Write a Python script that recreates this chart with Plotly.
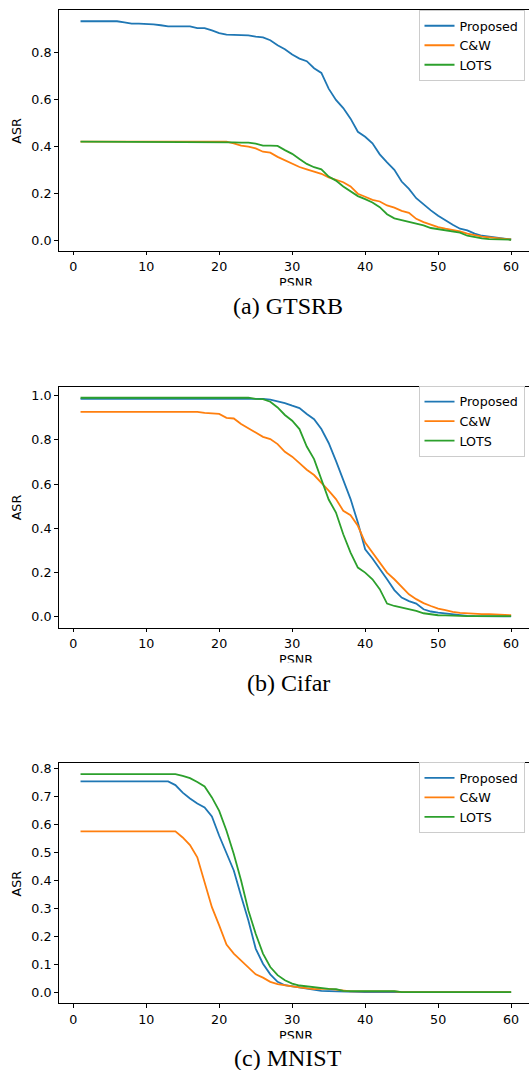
import plotly.graph_objects as go

# ---------------- data ----------------
psnr = list(range(1, 61))
x_ticks = [0, 10, 20, 30, 40, 50, 60]
series_names = ["Proposed", "C&W", "LOTS"]
captions = ["(a) GTSRB", "(b) Cifar", "(c) MNIST"]

gtsrb_proposed = [0.935, 0.935, 0.935, 0.935, 0.935, 0.935, 0.930, 0.925, 0.925, 0.925,
                  0.922, 0.918, 0.913, 0.913, 0.913, 0.913, 0.906, 0.906, 0.896, 0.885,
                  0.878, 0.878, 0.878, 0.875, 0.870, 0.866, 0.854, 0.833, 0.816, 0.793,
                  0.776, 0.765, 0.735, 0.715, 0.648, 0.600, 0.565, 0.520, 0.464, 0.443,
                  0.415, 0.368, 0.334, 0.302, 0.252, 0.221, 0.181, 0.153, 0.129, 0.106,
                  0.086, 0.068, 0.051, 0.044, 0.030, 0.021, 0.017, 0.013, 0.010, 0.005]
gtsrb_cw = [0.422, 0.422, 0.422, 0.422, 0.422, 0.422, 0.422, 0.422, 0.422, 0.422,
            0.422, 0.422, 0.422, 0.422, 0.422, 0.422, 0.422, 0.422, 0.422, 0.422,
            0.422, 0.415, 0.405, 0.401, 0.393, 0.379, 0.375, 0.357, 0.342, 0.330,
            0.314, 0.304, 0.294, 0.285, 0.270, 0.259, 0.249, 0.231, 0.200, 0.187,
            0.174, 0.167, 0.150, 0.141, 0.127, 0.119, 0.093, 0.079, 0.068, 0.058,
            0.051, 0.045, 0.040, 0.030, 0.023, 0.017, 0.014, 0.010, 0.006, 0.005]
gtsrb_lots = [0.422, 0.422, 0.422, 0.422, 0.422, 0.422, 0.422, 0.422, 0.422, 0.422,
              0.422, 0.422, 0.422, 0.422, 0.422, 0.422, 0.422, 0.422, 0.422, 0.422,
              0.422, 0.419, 0.418, 0.418, 0.414, 0.405, 0.405, 0.404, 0.386, 0.370,
              0.348, 0.327, 0.313, 0.304, 0.273, 0.256, 0.231, 0.209, 0.190, 0.177,
              0.163, 0.143, 0.113, 0.095, 0.088, 0.082, 0.072, 0.065, 0.054, 0.049,
              0.044, 0.038, 0.034, 0.021, 0.014, 0.010, 0.007, 0.005, 0.004, 0.004]

cifar_proposed = [0.986, 0.986, 0.986, 0.986, 0.986, 0.986, 0.986, 0.986, 0.986, 0.986,
                  0.986, 0.986, 0.986, 0.986, 0.986, 0.986, 0.986, 0.986, 0.986, 0.986,
                  0.986, 0.986, 0.986, 0.986, 0.986, 0.986, 0.982, 0.976, 0.967, 0.955,
                  0.944, 0.917, 0.894, 0.849, 0.786, 0.705, 0.615, 0.532, 0.426, 0.305,
                  0.263, 0.218, 0.169, 0.120, 0.086, 0.070, 0.059, 0.033, 0.023, 0.018,
                  0.014, 0.009, 0.006, 0.003, 0.002, 0.001, 0.001, 0.001, 0.001, 0.001]
cifar_cw = [0.927, 0.927, 0.927, 0.927, 0.927, 0.927, 0.927, 0.927, 0.927, 0.927,
            0.927, 0.927, 0.927, 0.927, 0.927, 0.927, 0.927, 0.922, 0.921, 0.918,
            0.900, 0.897, 0.872, 0.852, 0.834, 0.814, 0.804, 0.781, 0.746, 0.724,
            0.695, 0.665, 0.641, 0.607, 0.570, 0.532, 0.479, 0.459, 0.411, 0.335,
            0.290, 0.248, 0.199, 0.169, 0.135, 0.101, 0.079, 0.061, 0.048, 0.036,
            0.029, 0.021, 0.017, 0.014, 0.012, 0.011, 0.011, 0.009, 0.006, 0.006]
cifar_lots = [0.991, 0.991, 0.991, 0.991, 0.991, 0.991, 0.991, 0.991, 0.991, 0.991,
              0.991, 0.991, 0.991, 0.991, 0.991, 0.991, 0.991, 0.991, 0.991, 0.991,
              0.991, 0.991, 0.991, 0.991, 0.986, 0.985, 0.973, 0.947, 0.913, 0.887,
              0.849, 0.770, 0.713, 0.623, 0.530, 0.471, 0.373, 0.290, 0.222, 0.199,
              0.169, 0.124, 0.059, 0.048, 0.041, 0.034, 0.026, 0.015, 0.009, 0.006,
              0.005, 0.003, 0.002, 0.002, 0.002, 0.002, 0.002, 0.002, 0.002, 0.002]

mnist_proposed = [0.754, 0.754, 0.754, 0.754, 0.754, 0.754, 0.754, 0.754, 0.754, 0.754,
                  0.754, 0.754, 0.754, 0.741, 0.714, 0.693, 0.675, 0.661, 0.629, 0.560,
                  0.501, 0.436, 0.345, 0.257, 0.157, 0.103, 0.065, 0.038, 0.026, 0.022,
                  0.018, 0.013, 0.008, 0.006, 0.005, 0.004, 0.004, 0.001, 0.001, 0.001,
                  0.001, 0.001, 0.001, 0.001, 0.001, 0.001, 0.001, 0.001, 0.001, 0.001,
                  0.001, 0.001, 0.001, 0.001, 0.001, 0.001, 0.001, 0.001, 0.001, 0.001]
mnist_cw = [0.576, 0.576, 0.576, 0.576, 0.576, 0.576, 0.576, 0.576, 0.576, 0.576,
            0.576, 0.576, 0.576, 0.576, 0.554, 0.527, 0.483, 0.394, 0.305, 0.240,
            0.171, 0.139, 0.115, 0.091, 0.065, 0.053, 0.038, 0.030, 0.025, 0.022,
            0.018, 0.014, 0.012, 0.013, 0.013, 0.010, 0.006, 0.004, 0.004, 0.004,
            0.004, 0.004, 0.004, 0.004, 0.001, 0.001, 0.001, 0.001, 0.001, 0.001,
            0.001, 0.001, 0.001, 0.001, 0.001, 0.001, 0.001, 0.001, 0.001, 0.001]
mnist_lots = [0.780, 0.780, 0.780, 0.780, 0.780, 0.780, 0.780, 0.780, 0.780, 0.780,
              0.780, 0.780, 0.780, 0.780, 0.774, 0.766, 0.752, 0.736, 0.697, 0.649,
              0.578, 0.495, 0.400, 0.293, 0.210, 0.139, 0.091, 0.062, 0.044, 0.032,
              0.025, 0.022, 0.020, 0.015, 0.013, 0.012, 0.006, 0.005, 0.005, 0.005,
              0.005, 0.005, 0.005, 0.005, 0.001, 0.001, 0.001, 0.001, 0.001, 0.001,
              0.001, 0.001, 0.001, 0.001, 0.001, 0.001, 0.001, 0.001, 0.001, 0.001]

panels = [
    [gtsrb_proposed, gtsrb_cw, gtsrb_lots],
    [cifar_proposed, cifar_cw, cifar_lots],
    [mnist_proposed, mnist_cw, mnist_lots],
]
y_dticks = [0.2, 0.2, 0.1]

# ---------------- layout helpers ----------------
W, H = 529, 1070
colors = ["#1f77b4", "#ff7f0e", "#2ca02c"]
SANS = "DejaVu Sans"
SERIF = "Liberation Serif"
FS = 12.7


def fy(p):
    return 1 - p / H


# pixel geometry of each axes box (top, bottom) and y ranges
axes_px = [(8.5, 249.0), (385.5, 626.7), (762.7, 1003.3)]
y_ranges = [[-0.042, 0.981], [-0.0496, 1.0406], [-0.039, 0.819]]
legend_top_px = [8.0, 384.5, 761.5]
caption_px = [305.0, 682.0, 1058.0]

fig = go.Figure()
for i, vals in enumerate(panels):
    xa = "x" if i == 0 else f"x{i+1}"
    ya = "y" if i == 0 else f"y{i+1}"
    lg = "legend" if i == 0 else f"legend{i+1}"
    for j, name in enumerate(series_names):
        fig.add_trace(go.Scatter(
            x=psnr, y=vals[j], mode="lines", name=name,
            line=dict(color=colors[j], width=1.8),
            xaxis=xa, yaxis=ya, legend=lg, showlegend=True,
        ))

layout = dict(
    width=W, height=H,
    margin=dict(l=0, r=0, t=0, b=0),
    paper_bgcolor="white", plot_bgcolor="white",
    font=dict(family=SANS, size=FS, color="black"),
)

annotations = []
for i in range(3):
    top, bot = axes_px[i]
    sfx = "" if i == 0 else str(i + 1)
    layout["xaxis" + sfx] = dict(
        domain=[59 / W, 1.0], range=[-1.95, 62.45],
        tickvals=x_ticks, ticks="outside", ticklen=4, tickwidth=0.9, tickcolor="black",
        showline=True, linecolor="black", linewidth=0.9, mirror=True,
        showgrid=False, zeroline=False, anchor="y" + sfx,
        tickfont=dict(family=SANS, size=FS, color="black"),
    )
    layout["yaxis" + sfx] = dict(
        domain=[fy(bot), fy(top)], range=y_ranges[i],
        dtick=y_dticks[i], tick0=0, tickformat=".1f",
        ticks="outside", ticklen=4, tickwidth=0.9, tickcolor="black",
        showline=True, linecolor="black", linewidth=0.9, mirror=False,
        showgrid=False, zeroline=False, anchor="x" + sfx,
        tickfont=dict(family=SANS, size=FS, color="black"),
    )
    layout["legend" + sfx] = dict(
        x=524.5 / W, xanchor="right", y=fy(legend_top_px[i]), yanchor="top",
        bgcolor="rgba(255,255,255,0.8)", bordercolor="#cccccc", borderwidth=1,
        font=dict(family=SANS, size=FS, color="black"),
        itemwidth=30, tracegroupgap=0,
    )
    # ASR label
    annotations.append(dict(
        text="ASR", x=16.2 / W, y=fy((top + bot) / 2), xref="paper", yref="paper",
        xanchor="center", yanchor="middle", textangle=-90, showarrow=False,
        font=dict(family=SANS, size=FS, color="black"),
    ))
    # PSNR label (clipped at the bottom as in the source image)
    annotations.append(dict(
        text="PSNR", x=296 / W, y=fy(bot + 32.0), xref="paper", yref="paper",
        xanchor="center", yanchor="middle", showarrow=False,
        font=dict(family=SANS, size=FS, color="black"),
    ))
    annotations.append(dict(
        text=".", x=296 / W, y=fy(bot + 34.3), xref="paper", yref="paper",
        xanchor="center", yanchor="top", showarrow=False, width=120, height=9,
        bgcolor="white", borderpad=0, font=dict(size=2, color="white"),
    ))
    # caption
    annotations.append(dict(
        text=captions[i], x=288 / W, y=fy(caption_px[i]), xref="paper", yref="paper",
        xanchor="center", yanchor="middle", showarrow=False,
        font=dict(family=SERIF, size=24, color="black"),
    ))

layout["annotations"] = annotations
fig.update_layout(**layout)
fig.write_html(
    "out.html",
    config={"displayModeBar": False},
    post_script="document.body.style.margin='0';document.body.style.padding='0';"
                "document.documentElement.style.overflow='hidden';",
)
